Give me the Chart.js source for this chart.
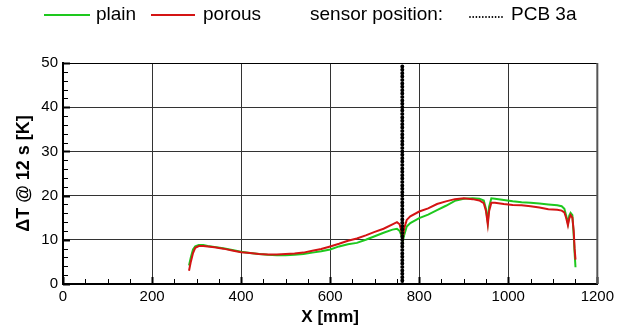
<!DOCTYPE html>
<html><head><meta charset="utf-8">
<script src="https://cdn.jsdelivr.net/npm/chart.js@4.4.1/dist/chart.umd.min.js"></script>
<style>html,body{margin:0;padding:0;background:#fff;}#wrap{width:618px;height:331px;}</style>
</head><body><div id="wrap"><canvas id="c" width="618" height="331"></canvas></div>
<script>
// ---- data ----
const xPositions = [283,287,292,297,305,315,325,340,360,380,400,420,440,460,480,500,520,540,560,580,600,620,640,660,680,700,720,740,750,756,760,763,766,772,780,800,820,840,860,880,900,920,935,945,950,954,957,962,970,990,1010,1030,1050,1070,1090,1110,1120,1126,1130,1134,1137,1140,1144,1147,1149,1151];
const plainValues = [4.2,6.0,7.8,8.5,8.8,8.8,8.6,8.4,8.1,7.7,7.3,7.0,6.8,6.6,6.5,6.5,6.6,6.8,7.1,7.4,7.8,8.5,9.0,9.3,10.0,10.8,11.6,12.3,12.5,12.0,11.0,9.5,11.0,13.0,13.8,14.9,15.7,16.7,17.7,18.8,19.3,19.4,19.3,18.9,17.0,14.0,17.5,19.4,19.3,19.0,18.7,18.5,18.4,18.2,18.0,17.8,17.6,17.0,15.5,13.7,15.5,16.1,15.6,11.0,7.0,3.8];
const porousValues = [3.0,5.0,7.0,8.2,8.6,8.6,8.5,8.3,8.0,7.6,7.2,7.0,6.8,6.7,6.7,6.8,6.9,7.1,7.5,7.9,8.5,9.1,9.8,10.3,11.0,11.8,12.5,13.5,14.0,13.5,12.0,10.3,12.5,14.5,15.3,16.4,17.1,18.1,18.7,19.2,19.4,19.2,18.9,18.3,16.5,13.5,16.5,18.4,18.4,18.1,17.9,17.8,17.6,17.3,16.9,16.8,16.6,16.2,15.0,13.3,14.8,15.6,15.0,12.0,8.0,5.5];
const sensorX = [762, 762];
const sensorY = [0, 50];
const xTickValues = [0,200,400,600,800,1000,1200];
const yTickValues = [0,10,20,30,40,50];
const seriesNames = ['plain','porous'];
const sensorLabel = 'PCB 3a';
const sensorCaption = 'sensor position:';
const xTitle = 'X [mm]';
const yTitle = 'ΔT @ 12 s [K]';

const GREEN = '#1ec81e', RED = '#d41414';
const toPts = (xs, ys) => xs.map((x, i) => ({x, y: ys[i]}));

const frame = {
  id: 'frame',
  afterDatasetsDraw(chart) {
    const {ctx, chartArea: a, scales: {x, y}} = chart;
    ctx.save();
    ctx.strokeStyle = '#000';
    for (let v = 0; v <= 1200; v += 50) {
      const px = Math.round(x.getPixelForValue(v)) + 0.5;
      const major = v % 200 === 0;
      ctx.lineWidth = major ? 2 : 1;
      ctx.beginPath(); ctx.moveTo(px, a.bottom); ctx.lineTo(px, a.bottom - (major ? 7 : 5)); ctx.stroke();
    }
    for (let v = 0; v <= 50; v += 2) {
      const py = Math.round(y.getPixelForValue(v)) + 0.5;
      const major = v % 10 === 0;
      ctx.lineWidth = major ? 2 : 1;
      ctx.beginPath(); ctx.moveTo(a.left, py); ctx.lineTo(a.left + (major ? 7 : 5), py); ctx.stroke();
    }
    ctx.lineWidth = 1;
    ctx.beginPath();
    ctx.moveTo(a.left, a.top + 0.5); ctx.lineTo(a.right, a.top + 0.5);
    ctx.stroke();
    ctx.strokeStyle = '#555'; ctx.lineWidth = 2;
    ctx.beginPath(); ctx.moveTo(a.right, a.top); ctx.lineTo(a.right, a.bottom); ctx.stroke();
    ctx.restore();
  },
  afterDraw(chart) {
    const ctx = chart.ctx;
    const cy = 15;
    ctx.save();
    ctx.font = '19px "Liberation Sans", Arial, sans-serif';
    ctx.textBaseline = 'middle';
    ctx.fillStyle = '#000';
    ctx.lineWidth = 2;
    const ds = chart.data.datasets;
    ctx.strokeStyle = ds[1].borderColor;
    ctx.beginPath(); ctx.moveTo(44, cy); ctx.lineTo(90, cy); ctx.stroke();
    ctx.fillText(seriesNames[0], 96, cy);
    ctx.strokeStyle = ds[0].borderColor;
    ctx.beginPath(); ctx.moveTo(151, cy); ctx.lineTo(195, cy); ctx.stroke();
    ctx.fillText(seriesNames[1], 203, cy);
    ctx.fillText(sensorCaption, 310, cy);
    ctx.strokeStyle = '#000'; ctx.lineWidth = 1.8; ctx.lineCap = 'round';
    ctx.setLineDash([0, 3.2]);
    ctx.beginPath(); ctx.moveTo(470, cy + 2); ctx.lineTo(505, cy + 2); ctx.stroke();
    ctx.setLineDash([]);
    ctx.fillText(sensorLabel, 511, cy);
    ctx.restore();
  }
};

const plainTick = v => String(v);

new Chart(document.getElementById('c'), {
  type: 'line',
  data: {
    datasets: [
      {label: seriesNames[1], data: toPts(xPositions, porousValues), borderColor: RED, borderWidth: 2, pointRadius: 0, tension: 0, order: 1},
      {label: seriesNames[0], data: toPts(xPositions, plainValues), borderColor: GREEN, borderWidth: 2, pointRadius: 0, tension: 0, order: 2},
      {label: sensorLabel, data: toPts(sensorX, sensorY), borderColor: '#000', borderWidth: 4, borderDash: [0, 3.4], borderCapStyle: 'round', pointRadius: 0, order: 0}
    ]
  },
  options: {
    responsive: false, animation: false, devicePixelRatio: 1,
    layout: {padding: {top: 63, right: 16, left: 0, bottom: 0}},
    plugins: {legend: {display: false}, tooltip: {enabled: false}},
    scales: {
      x: {
        type: 'linear', min: 0, max: 1200,
        afterFit(s) { s.height = 47; },
        afterBuildTicks(s) { s.ticks = xTickValues.map(v => ({value: v})); },
        ticks: {color: '#000', padding: 4, maxRotation: 0, callback: plainTick, font: {family: '"Liberation Sans", Arial', size: 15}},
        grid: {color: '#333', lineWidth: 1, drawTicks: false},
        border: {display: true, color: '#000', width: 2},
        title: {display: true, text: xTitle, color: '#000', padding: {top: 0, bottom: 3}, font: {family: '"Liberation Sans", Arial', size: 17, weight: 'bold'}}
      },
      y: {
        type: 'linear', min: 0, max: 50,
        afterFit(s) { s.width = 63; },
        afterBuildTicks(s) { s.ticks = yTickValues.map(v => ({value: v})); },
        ticks: {color: '#000', padding: 5, callback: plainTick, font: {family: '"Liberation Sans", Arial', size: 15}},
        grid: {color: '#333', lineWidth: 1, drawTicks: false},
        border: {display: true, color: '#000', width: 2},
        title: {display: true, text: yTitle, color: '#000', padding: {top: 13, bottom: 0}, font: {family: '"Liberation Sans", Arial', size: 18, weight: 'bold'}}
      }
    }
  },
  plugins: [frame]
});
</script></body></html>
